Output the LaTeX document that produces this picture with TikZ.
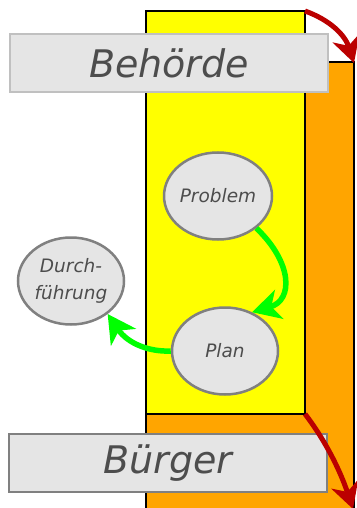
\documentclass[tikz,border=0pt]{standalone}
\usepackage{fontspec}
\setmainfont{DejaVu Sans}
\usetikzlibrary{arrows.meta,shapes.geometric}
\definecolor{boxfill}{HTML}{E5E5E5}
\definecolor{txt}{HTML}{4D4D4D}
\definecolor{rimgray}{HTML}{808080}
\definecolor{rimlight}{HTML}{C0C0C0}
\definecolor{yellowfill}{HTML}{FFFF00}
\definecolor{orangefill}{HTML}{FFA500}
\definecolor{flowgreen}{HTML}{00FF00}
\definecolor{flowred}{HTML}{BB0000}
\tikzset{
  bubble/.style={ellipse, draw=rimgray, fill=boxfill, line width=2.5pt,
    minimum width=106pt, minimum height=87pt, inner sep=0pt,
    text=txt, font=\fontsize{18.5}{27}\selectfont\itshape, align=center},
  banner/.style={rectangle, fill=boxfill, line width=2.5pt, inner sep=0pt,
    text=txt, font=\fontsize{38}{44}\selectfont\itshape},
  greenflow/.style={flowgreen, line width=5.5pt,
    -{Stealth[length=28pt,width=30pt,inset=8pt]}},
  redflow/.style={flowred, line width=5pt,
    -{Stealth[length=26pt,width=28pt,inset=8pt]}}
}
\begin{document}
\begin{tikzpicture}[x=1pt,y=-1pt]
\useasboundingbox (0,0) rectangle (356,508);
% level rectangles
\draw[fill=orangefill, line width=2pt] (146,62) rectangle (353.5,515);
\draw[fill=yellowfill, line width=2pt] (146,11) rectangle (305,414);
\coordinate (ytop) at (305,11);
\coordinate (ybot) at (305,414);
\coordinate (otop) at (354,63);
\coordinate (oend) at (353,509);
% banners
\node[banner, draw=rimlight, minimum width=318pt, minimum height=58pt] (beh) at (169,63) {Behörde};
\node[banner, draw=rimgray, minimum width=318pt, minimum height=58pt] (bur) at (168,463) {Bürger};
% process bubbles
\node[bubble] (prob) at (218,196) {Problem};
\node[bubble] (plan) at (225,351) {Plan};
\node[bubble] (durch) at (71,281) {Durch-\\führung};
% flows
\draw[greenflow] (prob.-40) .. controls (292,262) and (294,300) .. (plan.55);
\draw[greenflow] (plan.west) .. controls (150,352) and (128,344) .. (durch.-42);
\draw[redflow] (ytop) .. controls (330,20) and (345,35) .. (otop);
\draw[redflow] (ybot) .. controls (325,440) and (340,470) .. (oend);
\end{tikzpicture}
\end{document}
